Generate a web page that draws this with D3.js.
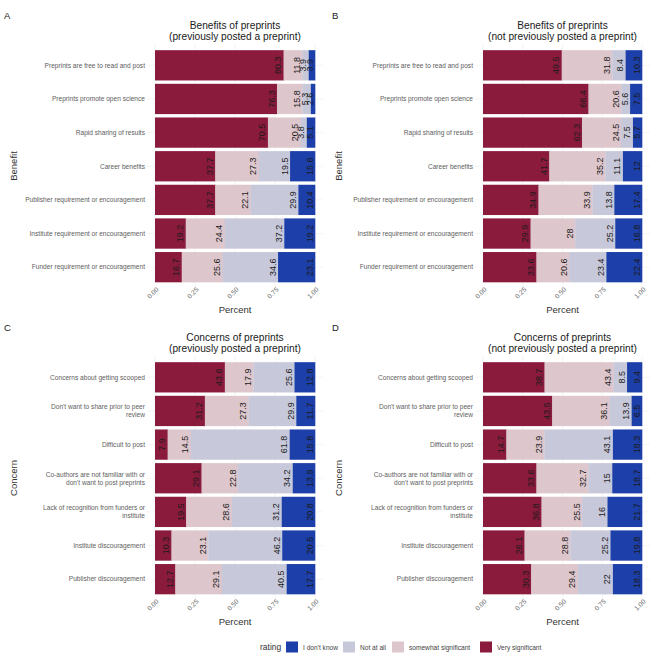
<!DOCTYPE html>
<html><head><meta charset="utf-8">
<script src="https://cdn.jsdelivr.net/npm/d3@7"></script>
<style>body{margin:0;background:#fff}svg{display:block;font-family:"Liberation Sans",Arial,sans-serif}</style>
</head><body><svg id="c" width="655" height="655"></svg>
<script>
const ratings = ["Very significant","somewhat significant","Not at all","I don't know"];
const legendOrder = ["I don't know","Not at all","somewhat significant","Very significant"];
const colors = ["#8a1b3d","#ddc7cc","#c7c9db","#1c3fa9"];
const benefits = ["Preprints are free to read and post","Preprints promote open science","Rapid sharing of results","Career benefits","Publisher requirement or encouragement","Institute requirement or encouragement","Funder requirement or encouragement"];
const concerns = ["Concerns about getting scooped","Don't want to share prior to peer|review","Difficult to post","Co-authors are not familiar with or|don't want to post preprints","Lack of recognition from funders or|institute","Institute discouragement","Publisher discouragement"];
const xTicks = [0,0.25,0.5,0.75,1];
// values per row: [Very, somewhat, Not at all, I don't know]
const benefitsPrev = [[80.3,11.8,3.9,3.9],[76.3,15.8,5.3,2.6],[70.5,20.5,3.8,5.1],[37.7,27.3,19.5,15.6],[37.7,22.1,29.9,10.4],[19.2,24.4,37.2,19.2],[16.7,25.6,34.6,23.1]];
const benefitsNot = [[49.5,31.8,8.4,10.3],[66.4,20.6,5.6,7.5],[62.3,24.5,7.5,5.7],[41.7,35.2,11.1,12],[34.9,33.9,13.8,17.4],[29.9,28,25.2,16.8],[33.6,20.6,23.4,22.4]];
const concernsPrev = [[43.6,17.9,25.6,12.8],[31.2,27.3,29.9,11.7],[7.9,14.5,61.8,15.8],[29.1,22.8,34.2,13.9],[19.5,28.6,31.2,20.8],[10.3,23.1,46.2,20.5],[12.7,29.1,40.5,17.7]];
const concernsNot = [[38.7,43.4,8.5,9.4],[43.5,36.1,13.9,6.5],[14.7,23.9,43.1,18.3],[33.6,32.7,15,18.7],[36.8,25.5,16,21.7],[26.1,28.8,25.2,19.8],[30.3,29.4,22,18.3]];

const panels = [
 {tag:"A", title:["Benefits of preprints","(previously posted a preprint)"], cats:benefits, data:benefitsPrev, ytitle:"Benefit", ox:0, oy:0, x0:155, x1:315},
 {tag:"B", title:["Benefits of preprints","(not previously posted a preprint)"], cats:benefits, data:benefitsNot, ytitle:"Benefit", ox:325, oy:0, x0:158, x1:317},
 {tag:"C", title:["Concerns of preprints","(previously posted a preprint)"], cats:concerns, data:concernsPrev, ytitle:"Concern", ox:0, oy:312, x0:155, x1:315},
 {tag:"D", title:["Concerns of preprints","(not previously posted a preprint)"], cats:concerns, data:concernsNot, ytitle:"Concern", ox:325, oy:312, x0:158, x1:317}
];
const svg = d3.select("#c");
panels.forEach(p => {
  const g = svg.append("g").attr("transform",`translate(${p.ox},${p.oy})`);
  const x = d3.scaleLinear().domain([0,1]).range([p.x0,p.x1]);
  const y = d3.scaleBand().domain(p.cats).range([48.5,284]).paddingInner(0.1).paddingOuter(0.05);
  const ext = (p.x1-p.x0)*0.05;
  // grid
  g.selectAll(".vg").data(xTicks).join("line").attr("x1",d=>x(d)).attr("x2",d=>x(d)).attr("y1",44).attr("y2",288).attr("stroke","#ececec").attr("stroke-width",0.6);
  g.selectAll(".hg").data(p.cats).join("line").attr("x1",p.x0-ext).attr("x2",p.x1+ext).attr("y1",d=>y(d)+y.bandwidth()/2).attr("y2",d=>y(d)+y.bandwidth()/2).attr("stroke","#ececec").attr("stroke-width",0.6);
  // bars
  const rows = p.cats.map((c,i)=>{
    const v = p.data[i]; const tot = d3.sum(v); let acc=0;
    return v.map((val,k)=>{const s=acc/tot; acc+=val; return {cat:c,k,val,s,e:acc/tot};});
  });
  const segs = rows.flat();
  g.selectAll(".seg").data(segs).join("rect")
    .attr("x",d=>x(d.s)).attr("width",d=>x(d.e)-x(d.s)+0.3)
    .attr("y",d=>y(d.cat)).attr("height",y.bandwidth())
    .attr("fill",d=>colors[d.k]);
  g.selectAll(".lab").data(segs).join("text")
    .attr("transform",d=>`translate(${x(d.e)-2.5},${y(d.cat)+y.bandwidth()/2}) rotate(-90)`)
    .attr("text-anchor","middle").attr("font-size",9).attr("fill","#1a1a1a")
    .text(d=>d.val);
  // category labels
  p.cats.forEach(c=>{
    const parts = c.split("|");
    const cy = y(c)+y.bandwidth()/2;
    const t = g.append("text").attr("text-anchor","end").attr("font-size",6.6).attr("fill","#5e5e5e");
    parts.forEach((s,i)=>{
      t.append("tspan").attr("x",p.x0-10).attr("y",cy+2.3+(i-(parts.length-1)/2)*8).text(s);
    });
  });
  // x tick labels
  g.selectAll(".xt").data(xTicks).join("text")
    .attr("transform",d=>`translate(${x(d)+4},${290}) rotate(-45)`)
    .attr("text-anchor","end").attr("font-size",6.6).attr("fill","#6a6a6a")
    .text(d=>d3.format(".2f")(d));
  g.append("text").attr("x",(p.x0+p.x1)/2).attr("y",313).attr("text-anchor","middle").attr("font-size",9.5).attr("fill","#333").text("Percent");
  g.append("text").attr("transform",`translate(${p.ox?3:17},166) rotate(-90)`).attr("text-anchor","middle").attr("font-size",9.5).attr("fill","#333").text(p.ox?"":p.ytitle);
  if(p.ox) g.append("text").attr("transform",`translate(17,166) rotate(-90)`).attr("text-anchor","middle").attr("font-size",9.5).attr("fill","#333").text(p.ytitle);
  // title
  p.title.forEach((s,i)=>g.append("text").attr("x",(p.x0+p.x1)/2).attr("y",29+i*11).attr("text-anchor","middle").attr("font-size",10.2).attr("fill","#1a1a1a").text(s));
  g.append("text").attr("x",p.ox?7:4).attr("y",19).attr("font-size",9.5).attr("fill","#1a1a1a").text(p.tag);
});
// legend
const lg = svg.append("g");
lg.append("text").attr("x",260).attr("y",650).attr("font-size",8.5).attr("fill","#333").text("rating");
const lx = [286,343,392,480];
legendOrder.forEach((r,i)=>{
  lg.append("rect").attr("x",lx[i]).attr("y",641.5).attr("width",12).attr("height",11).attr("fill",colors[ratings.indexOf(r)]);
  lg.append("text").attr("x",lx[i]+17).attr("y",649.5).attr("font-size",6.6).attr("fill","#444").text(r);
});
</script></body></html>
